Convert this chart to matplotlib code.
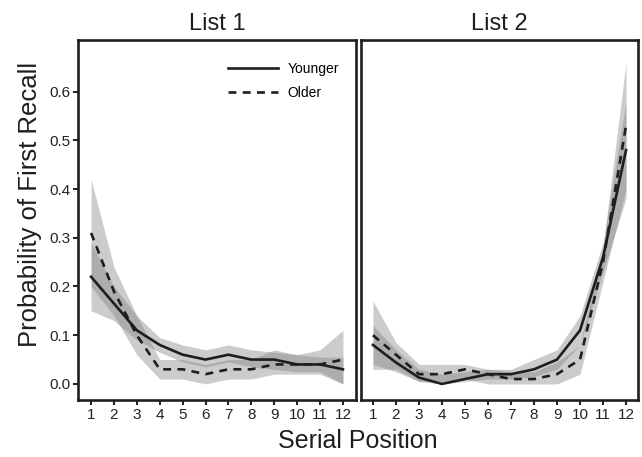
import matplotlib
matplotlib.use("Agg")
import matplotlib.pyplot as plt
import numpy as np

plt.rcParams['font.family'] = ['Liberation Sans', 'DejaVu Sans']

positions = list(range(1, 13))
panel_titles = ["List 1", "List 2"]
series_names = ["Younger", "Older"]

# List 1
l1_young = [0.22, 0.165, 0.11, 0.08, 0.06, 0.05, 0.06, 0.05, 0.05, 0.04, 0.04, 0.03]
l1_young_lo = [0.15, 0.13, 0.09, 0.065, 0.045, 0.035, 0.045, 0.035, 0.03, 0.025, 0.025, 0.0]
l1_young_hi = [0.29, 0.20, 0.14, 0.095, 0.08, 0.07, 0.08, 0.07, 0.065, 0.06, 0.055, 0.055]
l1_old = [0.31, 0.19, 0.10, 0.03, 0.03, 0.02, 0.03, 0.03, 0.04, 0.04, 0.04, 0.05]
l1_old_lo = [0.20, 0.14, 0.06, 0.01, 0.01, 0.0, 0.01, 0.01, 0.02, 0.02, 0.02, 0.0]
l1_old_hi = [0.42, 0.24, 0.14, 0.05, 0.05, 0.04, 0.05, 0.05, 0.07, 0.06, 0.07, 0.11]

# List 2
l2_young = [0.08, 0.044, 0.013, 0.0, 0.01, 0.02, 0.02, 0.03, 0.05, 0.11, 0.26, 0.48]
l2_young_lo = [0.04, 0.025, 0.005, 0.0, 0.005, 0.01, 0.01, 0.015, 0.03, 0.08, 0.23, 0.38]
l2_young_hi = [0.12, 0.07, 0.03, 0.02, 0.025, 0.03, 0.03, 0.05, 0.07, 0.14, 0.29, 0.58]
l2_old = [0.10, 0.06, 0.02, 0.02, 0.03, 0.02, 0.01, 0.01, 0.02, 0.05, 0.25, 0.53]
l2_old_lo = [0.03, 0.03, 0.005, 0.005, 0.01, 0.0, 0.0, 0.0, 0.0, 0.02, 0.21, 0.40]
l2_old_hi = [0.17, 0.085, 0.04, 0.04, 0.04, 0.03, 0.025, 0.025, 0.045, 0.08, 0.28, 0.66]

yticks = [0.0, 0.1, 0.2, 0.3, 0.4, 0.5, 0.6]

W, H = 642, 457
fig = plt.figure(figsize=(W / 100, H / 100), dpi=100)
ax1 = fig.add_axes([78 / W, (H - 400) / H, 278 / W, 360 / H])
ax2 = fig.add_axes([361 / W, (H - 400) / H, 277 / W, 360 / H])

line_col = '#1e1e1e'
band_col = '#808080'

data = [
    (l1_young, l1_young_lo, l1_young_hi, l1_old, l1_old_lo, l1_old_hi),
    (l2_young, l2_young_lo, l2_young_hi, l2_old, l2_old_lo, l2_old_hi),
]

for i, (ax, d) in enumerate(zip([ax1, ax2], data)):
    y, ylo, yhi, o, olo, ohi = d
    ax.fill_between(positions, ylo, yhi, color=band_col, alpha=0.4, lw=0)
    ax.fill_between(positions, olo, ohi, color=band_col, alpha=0.4, lw=0)
    ax.plot(positions, y, color=line_col, lw=1.9, ls='-', label=series_names[0])
    ax.plot(positions, o, color=line_col, lw=1.9, ls=(0, (3.0, 2.4)), label=series_names[1])
    ax.set_ylim(-0.033, 0.706)
    ax.set_xticks(positions)
    ax.set_xticklabels([str(p) for p in positions], fontsize=11, color='#222222')
    for s in ax.spines.values():
        s.set_linewidth(1.9)
        s.set_color('#1e1e1e')
    ax.tick_params(axis='x', direction='out', length=3.5, width=1.4, pad=2, color='#1e1e1e')
    ax.set_title(panel_titles[i], fontsize=17, pad=7, color='#1e1e1e')

ax1.set_xlim(0.43, 12.57)
ax2.set_xlim(0.48, 12.52)
ax1.set_yticks(yticks)
ax1.set_yticklabels([f"{v:.1f}" for v in yticks], fontsize=11, color='#222222')
ax1.tick_params(axis='y', direction='out', length=3.5, width=1.4, pad=2, color='#1e1e1e')
ax2.set_yticks([])

leg = ax1.legend(loc='upper right', frameon=False, fontsize=10, handlelength=3.6,
                 handletextpad=0.7, labelspacing=0.75, bbox_to_anchor=(0.985, 0.975))

fig.text(358 / W, 1 - 441 / H, "Serial Position", fontsize=18, ha='center', va='center', color='#1e1e1e')
fig.text(30 / W, 1 - 204 / H, "Probability of First Recall", fontsize=18.5, ha='center', va='center',
         rotation=90, color='#1e1e1e')

fig.savefig("out.png", dpi=100)
